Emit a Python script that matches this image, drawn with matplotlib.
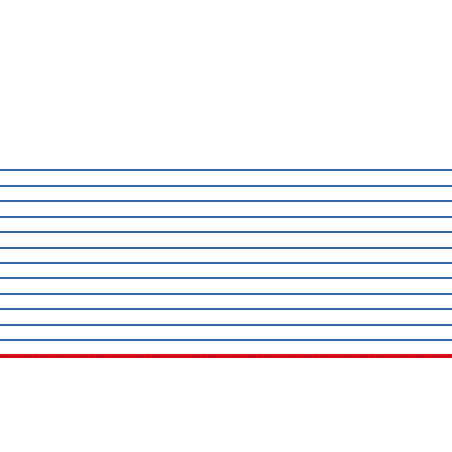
import matplotlib
matplotlib.use("Agg")
import matplotlib.pyplot as plt
import numpy as np

# 数据：水平线的取值
x_range = [0, 1]
blue_levels = [1, 2, 3, 4, 5, 6, 7, 8, 9, 10, 11, 12]
baseline = 0

# 4 x 113 = 452 像素
fig = plt.figure(figsize=(4, 4), dpi=113)
ax = fig.add_axes([0, 0, 1, 1])

# 蓝色水平线
for v in blue_levels:
    ax.plot(x_range, [v, v], color="#3567a9", linewidth=1.3, solid_capstyle="butt")

# 红色基准线 + 点线
ax.plot(x_range, [baseline, baseline], color="#e0101c", linewidth=2.6, solid_capstyle="butt")
ax.plot(x_range, [baseline, baseline], color="#8a0a14", linewidth=0.7, linestyle=(0, (1.5, 1.5)))

ax.set_xlim(x_range)
ax.set_ylim(-6.23, 23.02)
ax.axis("off")

fig.savefig("out.png", dpi=113)
